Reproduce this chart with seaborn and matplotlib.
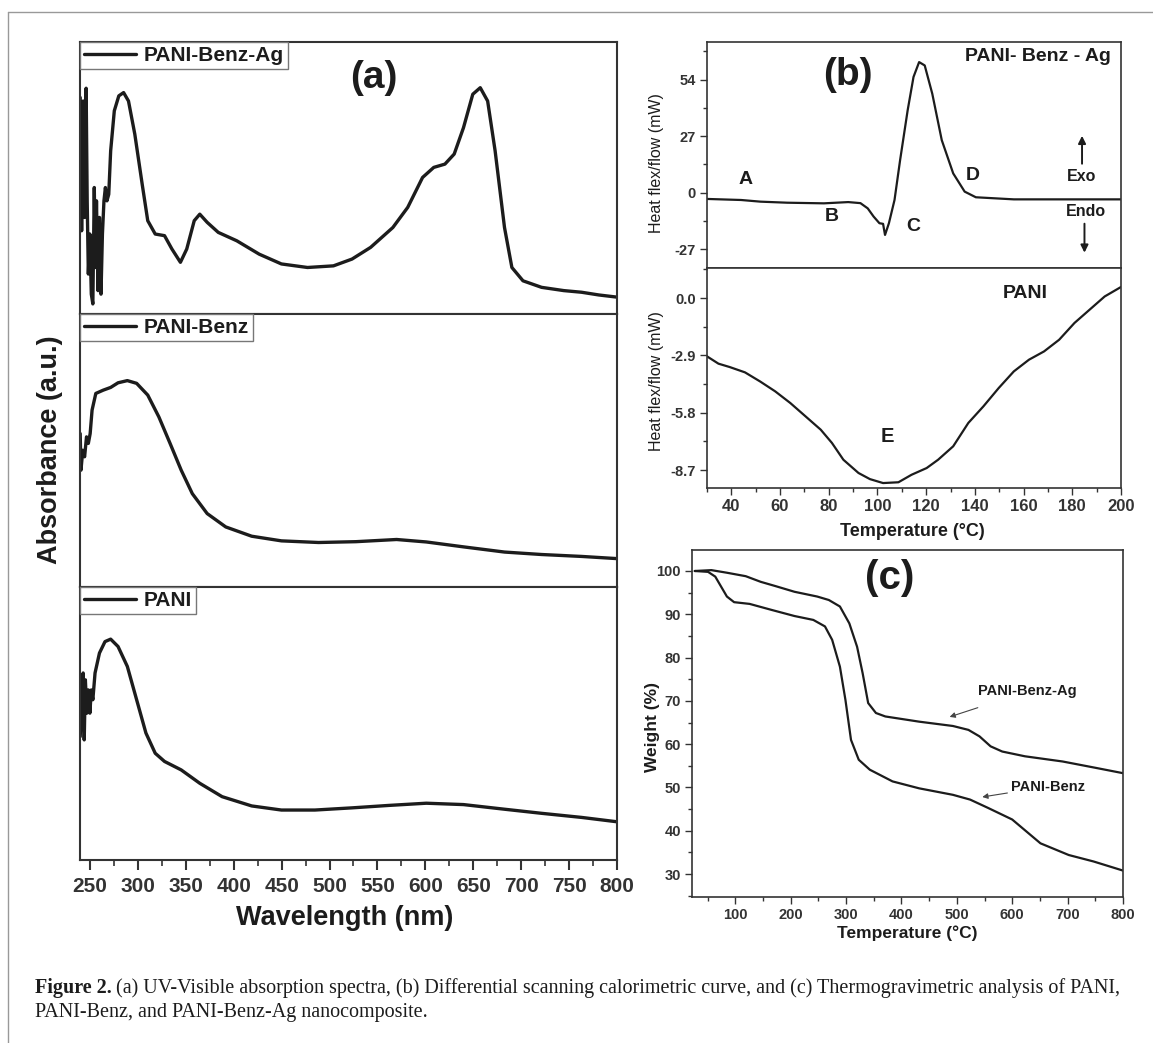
import seaborn as sns
import matplotlib.pyplot as plt
from matplotlib.ticker import MultipleLocator, FormatStrFormatter
from matplotlib.lines import Line2D

# (a) UV-Vis spectra, absorbance in arbitrary units (0-1 of each panel)
wl_ag = [239.8, 241.3, 242.9, 244.4, 246.0, 247.1, 248.3, 249.9, 251.4, 253.0, 254.5, 255.7,
         256.8, 258.4, 259.9, 261.5, 263.0, 264.6, 266.1, 267.7, 269.6, 271.6, 275.4, 280.1,
         285.1, 290.2, 296.8, 304.5, 310.3, 318.1, 327.8, 335.5, 344.4, 351.0, 358.8, 364.6,
         372.3, 383.9, 403.3, 426.6, 449.8, 477.0, 504.1, 523.5, 542.9, 566.1, 581.6, 597.1,
         608.8, 620.4, 630.1, 639.8, 649.5, 657.3, 665.0, 672.8, 682.6, 690.3, 701.9, 721.3,
         744.5, 763.0, 781.0, 800.0]
abs_ag = [0.796, 0.306, 0.783, 0.355, 0.830, 0.416, 0.147, 0.294, 0.073, 0.037, 0.465, 0.171,
          0.416, 0.086, 0.355, 0.073, 0.294, 0.416, 0.465, 0.416, 0.440, 0.600, 0.747, 0.802,
          0.814, 0.783, 0.661, 0.477, 0.343, 0.294, 0.288, 0.239, 0.190, 0.239, 0.343, 0.367,
          0.337, 0.300, 0.269, 0.220, 0.184, 0.171, 0.177, 0.202, 0.245, 0.318, 0.392, 0.502,
          0.539, 0.551, 0.588, 0.685, 0.808, 0.832, 0.783, 0.600, 0.318, 0.171, 0.122, 0.098,
          0.086, 0.080, 0.070, 0.062]

wl_benz = [239.8, 240.6, 242.5, 244.4, 246.4, 248.3, 250.2, 252.2, 256.1, 263.8, 271.6, 279.3,
           289.0, 298.7, 310.3, 321.9, 333.6, 345.2, 356.8, 372.3, 391.7, 418.8, 449.8, 488.6,
           527.4, 570.0, 601.0, 639.8, 682.6, 721.3, 763.0, 800.0]
abs_benz = [0.562, 0.428, 0.501, 0.477, 0.550, 0.526, 0.562, 0.648, 0.709, 0.721, 0.731, 0.748,
            0.756, 0.746, 0.703, 0.623, 0.526, 0.428, 0.342, 0.269, 0.220, 0.186, 0.169, 0.163,
            0.166, 0.174, 0.165, 0.147, 0.128, 0.119, 0.112, 0.104]

wl_pani = [239.8, 241.3, 242.9, 244.0, 245.2, 246.8, 248.3, 249.9, 251.4, 253.0, 255.3, 259.9,
           265.7, 271.6, 279.3, 289.0, 298.7, 308.4, 318.1, 327.8, 345.2, 364.6, 387.9, 418.8,
           449.8, 484.7, 523.5, 562.2, 601.0, 639.8, 682.6, 721.3, 763.0, 800.0]
abs_pani = [0.452, 0.562, 0.685, 0.440, 0.660, 0.538, 0.623, 0.538, 0.623, 0.587, 0.685, 0.758,
            0.800, 0.809, 0.782, 0.709, 0.587, 0.465, 0.391, 0.361, 0.330, 0.281, 0.232, 0.198,
            0.183, 0.183, 0.191, 0.200, 0.208, 0.203, 0.186, 0.171, 0.156, 0.140]

# (b) DSC curves
t_ag = [30, 44, 52, 63, 78, 88, 93, 96, 98.4, 100.8, 102.3, 103.1, 104.7, 107, 109.3, 112.4,
        114.8, 117.1, 119.4, 122.5, 126.4, 131.1, 135.8, 140.4, 156, 171.5, 200]
q_ag = [-3.0, -3.5, -4.3, -4.8, -5.1, -4.5, -5.0, -7.5, -11.4, -14.6, -14.9, -20.2, -14.6, -3.5,
        15.6, 39.4, 55.3, 62.4, 60.8, 47.3, 25.1, 9.2, 0.5, -2.2, -3.2, -3.2, -3.2]

t_pani = [30, 34.7, 39.3, 45.6, 51.8, 58, 64.2, 70.5, 76.7, 81.3, 86, 92.2, 96.9, 102.3, 108.6,
          114, 120.2, 124.9, 131.1, 137.3, 143.5, 149.8, 156, 162.2, 168.4, 174.6, 180.9,
          187.1, 193.3, 200]
q_pani = [-2.95, -3.32, -3.49, -3.76, -4.22, -4.72, -5.31, -5.99, -6.66, -7.33, -8.18, -8.85,
          -9.16, -9.36, -9.32, -8.94, -8.60, -8.18, -7.50, -6.32, -5.48, -4.55, -3.71, -3.12,
          -2.70, -2.11, -1.26, -0.59, 0.08, 0.56]

# (c) TGA curves
tg_ag_t = [27, 57, 85, 119, 146, 173, 207, 248, 269, 289, 306, 320, 330, 340, 354, 371, 432,
           493, 521, 541, 561, 582, 623, 691, 752, 800]
tg_ag_w = [100, 100.2, 99.6, 98.8, 97.5, 96.5, 95.2, 94.1, 93.3, 91.8, 87.9, 82.5, 76.4, 69.5,
           67.2, 66.4, 65.2, 64.2, 63.3, 61.8, 59.5, 58.3, 57.2, 56.0, 54.5, 53.3]

tg_benz_t = [27, 51, 64, 85, 98, 126, 166, 207, 241, 262, 275, 289, 299, 309, 323, 343, 384,
             432, 493, 524, 556, 600, 651, 702, 747, 800]
tg_benz_w = [100, 99.8, 98.7, 94.1, 92.8, 92.4, 91.0, 89.6, 88.7, 87.2, 84.1, 77.9, 70.2, 61.0,
             56.4, 54.1, 51.4, 49.8, 48.3, 47.2, 45.3, 42.6, 37.1, 34.4, 32.9, 30.8]

W, H = 1153, 1043
INK = '#1c1c1c'
SPINE = '#333333'

sns.set_style("ticks")
plt.rcParams['font.family'] = ['Liberation Sans', 'DejaVu Sans']
plt.rcParams['axes.unicode_minus'] = False
plt.rcParams['text.color'] = INK
plt.rcParams['xtick.color'] = SPINE
plt.rcParams['ytick.color'] = SPINE

fig = plt.figure(figsize=(W / 100, H / 100), dpi=100)


def px_box(l, t, r, b):
    return [l / W, 1 - b / H, (r - l) / W, (b - t) / H]


def style_spines(ax, lw):
    for s in ax.spines.values():
        s.set_visible(True)
        s.set_color(SPINE)
        s.set_linewidth(lw)


# outer frame
fig.add_artist(Line2D([8 / W, 8 / W], [0, 1 - 12 / H], color='#999999', lw=1))
fig.add_artist(Line2D([8 / W, 1], [1 - 12 / H, 1 - 12 / H], color='#999999', lw=1))

# ---- panel (a)
a_rows = [(42, 314), (314, 587), (587, 860)]
uv = [(wl_ag, abs_ag, 'PANI-Benz-Ag'), (wl_benz, abs_benz, 'PANI-Benz'), (wl_pani, abs_pani, 'PANI')]
for i, ((t, b), (x, y, name)) in enumerate(zip(a_rows, uv)):
    ax = fig.add_axes(px_box(80, t, 617, b))
    sns.lineplot(x=x, y=y, ax=ax, color=INK, lw=2.4, sort=False, estimator=None, label=name)
    ax.set_xlim(239.6, 800)
    ax.set_ylim(0, 1)
    ax.set_xlabel('')
    ax.set_ylabel('')
    ax.set_yticks([])
    style_spines(ax, 1.5)
    leg = ax.legend(loc='upper left', borderaxespad=0, fancybox=False, edgecolor='#777777',
                    prop={'weight': 'bold', 'size': 15}, handlelength=2.5, handletextpad=0.35,
                    borderpad=0.2, framealpha=1)
    leg.get_frame().set_linewidth(1)
    if i == 2:
        ax.xaxis.set_major_locator(MultipleLocator(50))
        ax.xaxis.set_minor_locator(MultipleLocator(25))
        ax.tick_params(axis='x', which='major', direction='out', length=7, width=1.5, pad=5,
                       labelsize=15)
        ax.tick_params(axis='x', which='minor', direction='out', length=4, width=1.2)
        for lab in ax.get_xticklabels():
            lab.set_fontweight('bold')
    else:
        ax.tick_params(axis='x', which='both', bottom=False, labelbottom=False)
    if i == 0:
        ax.text(546, 0.868, '(a)', ha='center', va='center', fontsize=28, fontweight='bold')

fig.text(50 / W, 1 - 450 / H, 'Absorbance (a.u.)', rotation=90, ha='center', va='center',
         fontsize=19.5, fontweight='bold')
fig.text(345 / W, 1 - 918 / H, 'Wavelength (nm)', ha='center', va='center',
         fontsize=19.5, fontweight='bold')

# ---- panel (b)
b1 = fig.add_axes(px_box(707, 42, 1121, 268))
b2 = fig.add_axes(px_box(707, 268, 1121, 488))
sns.lineplot(x=t_ag, y=q_ag, ax=b1, color=INK, lw=1.6, sort=False, estimator=None)
sns.lineplot(x=t_pani, y=q_pani, ax=b2, color=INK, lw=1.6, sort=False, estimator=None)
for ax in (b1, b2):
    ax.set_xlim(30, 200)
    ax.set_xlabel('')
    ax.set_ylabel('')
    style_spines(ax, 1.2)
    ax.tick_params(axis='y', which='major', direction='out', length=5, width=1, pad=3,
                   labelsize=10.5)
    ax.tick_params(axis='y', which='minor', direction='out', length=3, width=1)

b1.set_ylim(-36, 72)
b1.set_yticks([-27, 0, 27, 54])
b1.yaxis.set_minor_locator(MultipleLocator(13.5))
b1.tick_params(axis='x', which='both', bottom=False, labelbottom=False)

b2.set_ylim(-9.61, 1.52)
b2.set_yticks([0.0, -2.9, -5.8, -8.7])
b2.yaxis.set_major_formatter(FormatStrFormatter('%.1f'))
b2.yaxis.set_minor_locator(MultipleLocator(1.45))
b2.xaxis.set_major_locator(MultipleLocator(20))
b2.xaxis.set_minor_locator(MultipleLocator(10))
b2.tick_params(axis='x', which='major', direction='out', length=5, width=1, pad=3, labelsize=12)
b2.tick_params(axis='x', which='minor', direction='out', length=3, width=1)
for ax in (b1, b2):
    for lab in ax.get_xticklabels() + ax.get_yticklabels():
        lab.set_fontweight('bold')

b1.text(88, 56, '(b)', ha='center', va='center', fontsize=28, fontweight='bold')
b1.text(196, 65, 'PANI- Benz - Ag', ha='right', va='center', fontsize=14, fontweight='bold')
for lbl, x, y in [('A', 45.9, 6.5), ('B', 81.3, -11.4), ('C', 114.8, -16.2), ('D', 139.3, 8.1)]:
    b1.text(x, y, lbl, ha='center', va='center', fontsize=14, fontweight='bold')
b1.text(184, 7.6, 'Exo', ha='center', va='center', fontsize=11.5, fontweight='bold')
b1.text(185.5, -9.2, 'Endo', ha='center', va='center', fontsize=11.5, fontweight='bold')
b1.annotate('', xy=(184, 28.5), xytext=(184, 12.5),
            arrowprops=dict(arrowstyle='-|>', lw=1.4, color=INK, mutation_scale=11))
b1.annotate('', xy=(185, -30), xytext=(185, -13.5),
            arrowprops=dict(arrowstyle='-|>', lw=1.4, color=INK, mutation_scale=11))
b2.text(160.6, 0.25, 'PANI', ha='center', va='center', fontsize=14, fontweight='bold')
b2.text(104.2, -7.0, 'E', ha='center', va='center', fontsize=14.5, fontweight='bold')

fig.text(656 / W, 1 - 163 / H, 'Heat flex/flow (mW)', rotation=90, ha='center', va='center',
         fontsize=11.5)
fig.text(656 / W, 1 - 381 / H, 'Heat flex/flow (mW)', rotation=90, ha='center', va='center',
         fontsize=11.5)
fig.text(912 / W, 1 - 531 / H, 'Temperature (\u00b0C)', ha='center', va='center',
         fontsize=13, fontweight='bold')

# ---- panel (c)
c = fig.add_axes(px_box(692, 550, 1123, 897))
sns.lineplot(x=tg_ag_t, y=tg_ag_w, ax=c, color=INK, lw=1.6, sort=False, estimator=None)
sns.lineplot(x=tg_benz_t, y=tg_benz_w, ax=c, color=INK, lw=1.6, sort=False, estimator=None)
c.set_xlim(22, 800)
c.set_ylim(24.7, 104.85)
c.set_xlabel('')
c.set_ylabel('')
style_spines(c, 1.2)
c.xaxis.set_major_locator(MultipleLocator(100))
c.xaxis.set_minor_locator(MultipleLocator(50))
c.yaxis.set_major_locator(MultipleLocator(10))
c.yaxis.set_minor_locator(MultipleLocator(5))
c.tick_params(which='major', direction='out', length=5, width=1, pad=3, labelsize=10.5)
c.tick_params(which='minor', direction='out', length=3, width=1)
for lab in c.get_xticklabels() + c.get_yticklabels():
    lab.set_fontweight('bold')
c.set_xlim(22, 800)
c.text(378, 98.3, '(c)', ha='center', va='center', fontsize=29, fontweight='bold')
c.annotate('PANI-Benz-Ag', xy=(487, 66.3), xytext=(628, 72.2), ha='center', va='center',
           fontsize=10.5, fontweight='bold',
           arrowprops=dict(arrowstyle='-|>', lw=0.8, color='#444444', mutation_scale=8,
                           shrinkA=14, shrinkB=0))
c.annotate('PANI-Benz', xy=(546, 47.8), xytext=(664, 50.2), ha='center', va='center',
           fontsize=10.5, fontweight='bold',
           arrowprops=dict(arrowstyle='-|>', lw=0.8, color='#444444', mutation_scale=8,
                           shrinkA=30, shrinkB=0))
fig.text(653 / W, 1 - 727 / H, 'Weight (%)', rotation=90, ha='center', va='center',
         fontsize=12.5, fontweight='bold')
fig.text(907 / W, 1 - 933 / H, 'Temperature (\u00b0C)', ha='center', va='center',
         fontsize=12.5, fontweight='bold')

# ---- caption
serif = ['Liberation Serif', 'DejaVu Serif']
head = fig.text(35 / W, 1 - 988 / H, 'Figure 2.', family=serif, fontsize=14.5,
                fontweight='bold', va='center')
fig.canvas.draw()
bb = head.get_window_extent()
fig.text((bb.x1 + 4) / W, 1 - 988 / H,
         '(a) UV-Visible absorption spectra, (b) Differential scanning calorimetric curve, '
         'and (c) Thermogravimetric analysis of PANI,',
         family=serif, fontsize=14.5, va='center')
fig.text(35 / W, 1 - 1012 / H, 'PANI-Benz, and PANI-Benz-Ag nanocomposite.', family=serif,
         fontsize=14.5, va='center')

fig.savefig('out.png', dpi=100)
